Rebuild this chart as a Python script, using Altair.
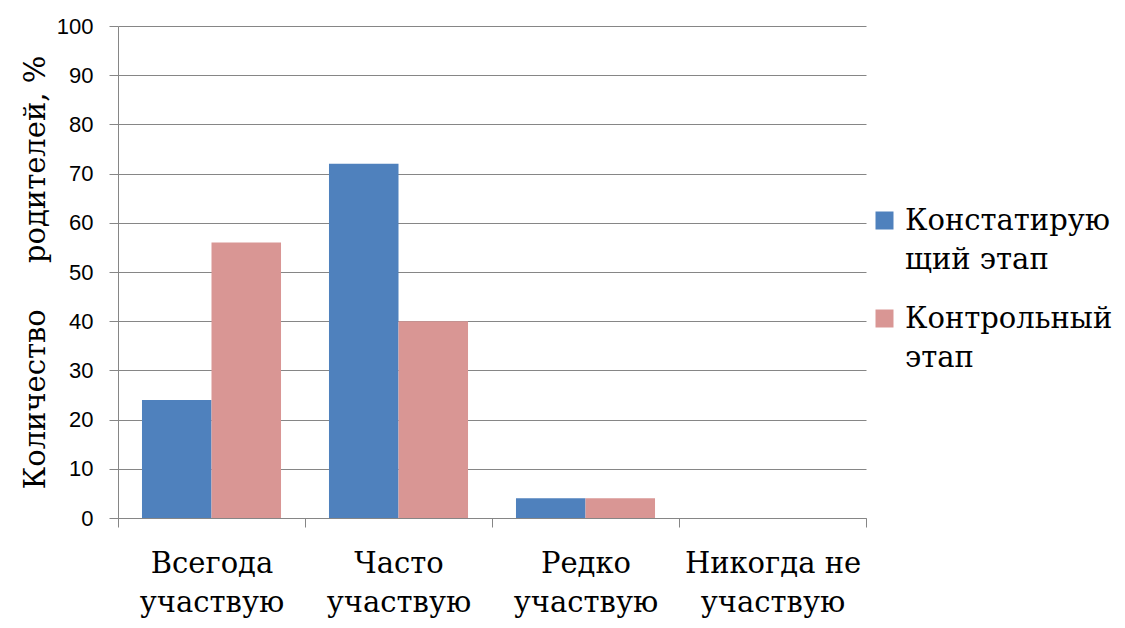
import altair as alt
import pandas as pd

categories = ["Всегода|участвую", "Часто|участвую", "Редко|участвую", "Никогда не|участвую"]
series = ["Констатирую|щий этап", "Контрольный|этап"]
values_1 = [24, 72, 4, 0]
values_2 = [56, 40, 4, 0]
colors = ["#4F81BD", "#D99694"]
y_ticks = list(range(0, 101, 10))

rows = []
for c, v in zip(categories, values_1):
    rows.append({"cat": c, "series": series[0], "value": v})
for c, v in zip(categories, values_2):
    rows.append({"cat": c, "series": series[1], "value": v})
df = pd.DataFrame(rows)

SERIF = "DejaVu Serif"
SANS = "Liberation Sans"
GRAY = "#868686"

chart = alt.Chart(df).mark_bar().encode(
    x=alt.X("cat:N", sort=categories,
            scale=alt.Scale(paddingInner=0, paddingOuter=0),
            axis=alt.Axis(title=None, labelAngle=0, labelExpr="split(datum.label, '|')",
                          labelFont=SERIF, labelFontSize=29, labelColor="#000000",
                          labelLineHeight=39, labelPadding=22, labelBaseline="top",
                          tickBand="extent", tickSize=9, tickColor=GRAY, domainColor=GRAY,
                          grid=False, labelLimit=0)),
    xOffset=alt.XOffset("series:N", sort=series,
                        scale=alt.Scale(paddingOuter=0.345, paddingInner=0)),
    y=alt.Y("value:Q", scale=alt.Scale(domain=[0, 100], nice=False),
            axis=alt.Axis(title="Количество\u00a0\u00a0\u00a0\u00a0\u00a0родителей, %",
                          values=y_ticks, titleFont=SERIF, titleFontSize=29,
                          titleFontWeight="normal", titleColor="#000000", titlePadding=6,
                          labelFont=SANS, labelFontSize=22, labelColor="#000000",
                          labelPadding=16, tickSize=9, tickColor=GRAY, domainColor=GRAY,
                          gridColor=GRAY, grid=True)),
    color=alt.Color("series:N", sort=series,
                    scale=alt.Scale(domain=series, range=colors),
                    legend=alt.Legend(title=None, orient="none", legendX=752, legendY=180,
                                      symbolType="square", symbolSize=324,
                                      symbolStrokeWidth=0, labelFont=SERIF,
                                      labelFontSize=29, labelColor="#000000",
                                      labelExpr="split(datum.label, '|')",
                                      labelLimit=0, labelOffset=6, rowPadding=29)),
).properties(
    width=748, height=492,
    autosize=alt.AutoSizeParams(type="none"),
    padding={"left": 110, "top": 18, "right": 250, "bottom": 110},
).configure(style={"guide-label": {"lineHeight": 39}}).configure_view(stroke=None)

chart.save("out.html", embed_options={"renderer": "svg", "actions": False})
